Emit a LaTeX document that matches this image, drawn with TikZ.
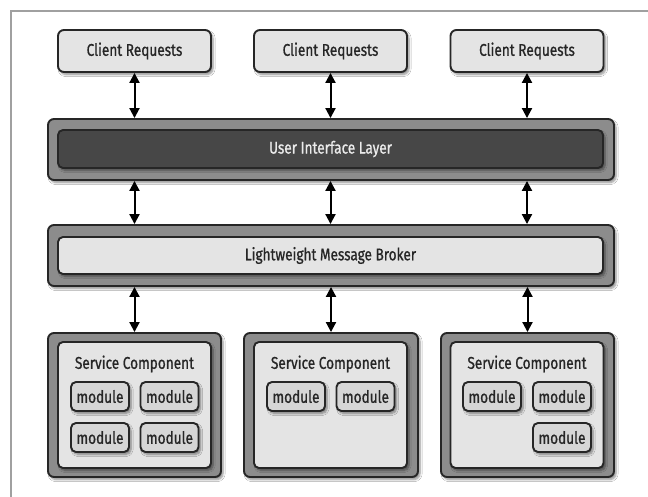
\documentclass[tikz,border=0pt]{standalone}
\usepackage{fontspec}
\setmainfont[FakeStretch=0.8,FakeBold=0.9]{Fira Sans}
\usetikzlibrary{arrows.meta,shadows.blur}
\definecolor{outerg}{HTML}{8C8C8C}
\definecolor{innerg}{HTML}{E4E4E4}
\definecolor{darkg}{HTML}{474747}
\definecolor{modg}{HTML}{D6D6D6}
\definecolor{frameg}{HTML}{A0A0A0}
\definecolor{txt}{HTML}{262626}
\tikzset{
  shd/.style={blur shadow={shadow xshift=2pt,shadow yshift=-2.5pt,shadow blur steps=6,shadow blur extra rounding=1pt,shadow opacity=45}},
  txtfont/.style={font=\fontsize{17}{19}\selectfont},
  outerbox/.style={draw=black!85,line width=1.9pt,fill=outerg,rounded corners=6pt,shd,minimum width=#1},
  innerbox/.style={draw=black!85,line width=1.9pt,fill=innerg,rounded corners=5pt,shd,minimum width=#1},
  clientbox/.style={draw=black!85,line width=1.9pt,fill=innerg,rounded corners=6pt,shd,minimum width=153pt,minimum height=42pt,txtfont,text=txt},
  modbox/.style={draw=black!85,line width=1.9pt,fill=modg,rounded corners=5pt,shd,minimum width=58pt,minimum height=29pt,inner sep=0pt,txtfont,text=txt},
  lbl/.style={txtfont,text=txt,inner sep=0pt},
  biarrow/.style={line width=2pt,{Triangle[length=10pt,width=10pt]}-{Triangle[length=10pt,width=10pt]}}
}
\begin{document}
\begin{tikzpicture}[x=1pt,y=-1pt]
\useasboundingbox (0,0) rectangle (648,497);
\fill[white] (0,0) rectangle (648,497);
\draw[frameg,line width=1.5pt] (11,497) -- (11,11) -- (648,11);
% client requests
\node[clientbox] (cr1) at (134.5,51) {Client Requests};
\node[clientbox] (cr2) at (330.5,51) {Client Requests};
\node[clientbox] (cr3) at (527,51) {Client Requests};
% UI layer
\node[outerbox=566pt,minimum height=61pt] (uio) at (331,149.5) {};
\node[innerbox=545pt,minimum height=38pt,fill=darkg,text=white!92!black,txtfont] (uii) at (330.5,149) {User Interface Layer};
% broker
\node[outerbox=566pt,minimum height=61pt] (bro) at (331,255.5) {};
\node[innerbox=545pt,minimum height=37pt,text=txt,txtfont] (bri) at (330.5,255.5) {Lightweight Message Broker};
% service components
\node[outerbox=173pt,minimum height=144pt] (s1o) at (134.5,405) {};
\node[outerbox=174pt,minimum height=144pt] (s2o) at (331,405) {};
\node[outerbox=173pt,minimum height=144pt] (s3o) at (527.5,405) {};
\node[innerbox=153pt,minimum height=126pt] (s1i) at (134.5,405) {};
\node[innerbox=153pt,minimum height=126pt] (s2i) at (330.5,405) {};
\node[innerbox=153pt,minimum height=126pt] (s3i) at (527,405) {};
\node[lbl] (t1) at (134.5,364) {Service Component};
\node[lbl] (t2) at (330.5,364) {Service Component};
\node[lbl] (t3) at (527,364) {Service Component};
% modules
\node[modbox] (m11) at (100,396.5) {module};
\node[modbox] (m12) at (169.5,396.5) {module};
\node[modbox] (m13) at (100,437.5) {module};
\node[modbox] (m14) at (169.5,437.5) {module};
\node[modbox] (m21) at (296,396.5) {module};
\node[modbox] (m22) at (365.5,396.5) {module};
\node[modbox] (m31) at (492,396.5) {module};
\node[modbox] (m32) at (562,396.5) {module};
\node[modbox] (m33) at (562,437.5) {module};
% arrows
\draw[biarrow] (cr1.south) -- (cr1.south |- uio.north);
\draw[biarrow] (cr2.south) -- (cr2.south |- uio.north);
\draw[biarrow] (cr3.south) -- (cr3.south |- uio.north);
\draw[biarrow] (uio.south -| cr1) -- (bro.north -| cr1);
\draw[biarrow] (uio.south -| cr2) -- (bro.north -| cr2);
\draw[biarrow] (uio.south -| cr3) -- (bro.north -| cr3);
\draw[biarrow] (bro.south -| s1o) -- (s1o.north);
\draw[biarrow] (bro.south -| s2o) -- (s2o.north);
\draw[biarrow] (bro.south -| s3o) -- (s3o.north);
\end{tikzpicture}
\end{document}
